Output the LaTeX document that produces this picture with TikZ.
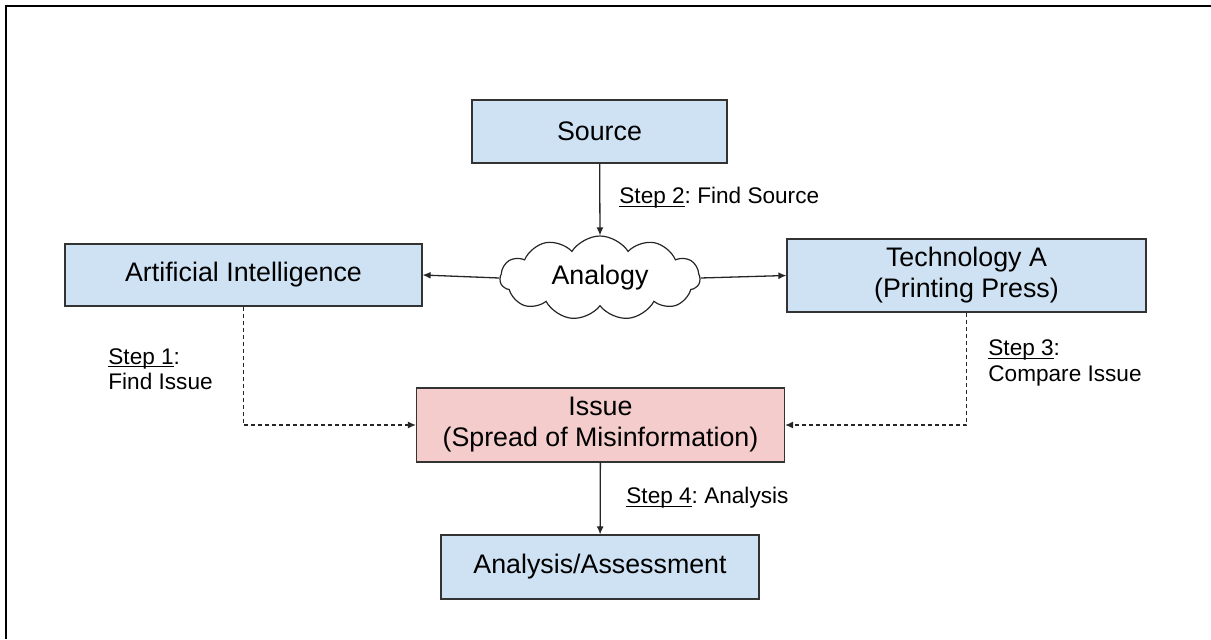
\documentclass[tikz,border=0pt]{standalone}
\usepackage{fontspec}
\setmainfont{Liberation Sans}
\usetikzlibrary{arrows.meta,shapes.symbols}
\newcommand{\stepul}[1]{\setbox0\hbox{#1}\rlap{\rule[-1.6pt]{\wd0}{0.5pt}}\box0}

\begin{document}
\begin{tikzpicture}[x=0.5pt, y=0.5pt, >={Latex[length=4pt,width=3.5pt]},
	box/.style={draw=black!80, line width=0.6pt, align=center, inner sep=0pt, font=\fontsize{13.4}{15.5}\selectfont},
	bluebox/.style={box, fill={rgb,255:red,207;green,226;blue,243}},
	redbox/.style={box, fill={rgb,255:red,244;green,204;blue,204}},
	steplabel/.style={anchor=west, align=left, inner sep=0pt, font=\fontsize{11.3}{12.6}\selectfont\frenchspacing},
	link/.style={->, black!85, line width=0.65pt},
	dashlink/.style={link, dash pattern=on 2pt off 1.5pt}]
	\useasboundingbox (0,0) rectangle (1211,639);
	\draw[line width=1pt] (1211,632.5) -- (6,632.5) -- (6,0);
	\node[bluebox, minimum width=127.5pt, minimum height=31.5pt] (source) at (599.5,507.5) {Source};
	\node[cloud, draw=black!85, line width=0.6pt, cloud puffs=11, cloud puff arc=115, aspect=2.4, inner sep=0pt,
		minimum width=100pt, minimum height=42pt, font=\fontsize{13.4}{15.5}\selectfont] (analogy) at (600,361) {Analogy};
	\node[bluebox, minimum width=178.5pt, minimum height=31pt] (ai) at (243.5,364) {Artificial Intelligence};
	\node[bluebox, minimum width=179.5pt, minimum height=36.5pt] (tech) at (966.5,363.5) {Technology A\\(Printing Press)};
	\node[redbox, minimum width=184pt, minimum height=37pt] (issue) at (600.5,214) {Issue\\(Spread of Misinformation)};
	\node[bluebox, minimum width=159pt, minimum height=32pt] (assess) at (600,72) {Analysis/Assessment};
	\draw[link] (source) -- (analogy.north);
	\draw[link] (analogy.west) -- (ai.east);
	\draw[link] (analogy.east) -- (tech.west);
	\draw[dashlink] (ai.south) |- (issue.west);
	\draw[dashlink] (tech.south) |- (issue.east);
	\draw[link] (issue) -- (assess);
	\node[steplabel] (step2) at (619,441) {\stepul{Step 2}: Find Source};
	\node[steplabel] (step1) at (108,270) {\stepul{Step 1}:\\Find Issue};
	\node[steplabel] (step3) at (988,276) {\stepul{Step 3}:\\Compare Issue};
	\node[steplabel] (step4) at (626,141) {\stepul{Step 4}: Analysis};
\end{tikzpicture}
\end{document}
